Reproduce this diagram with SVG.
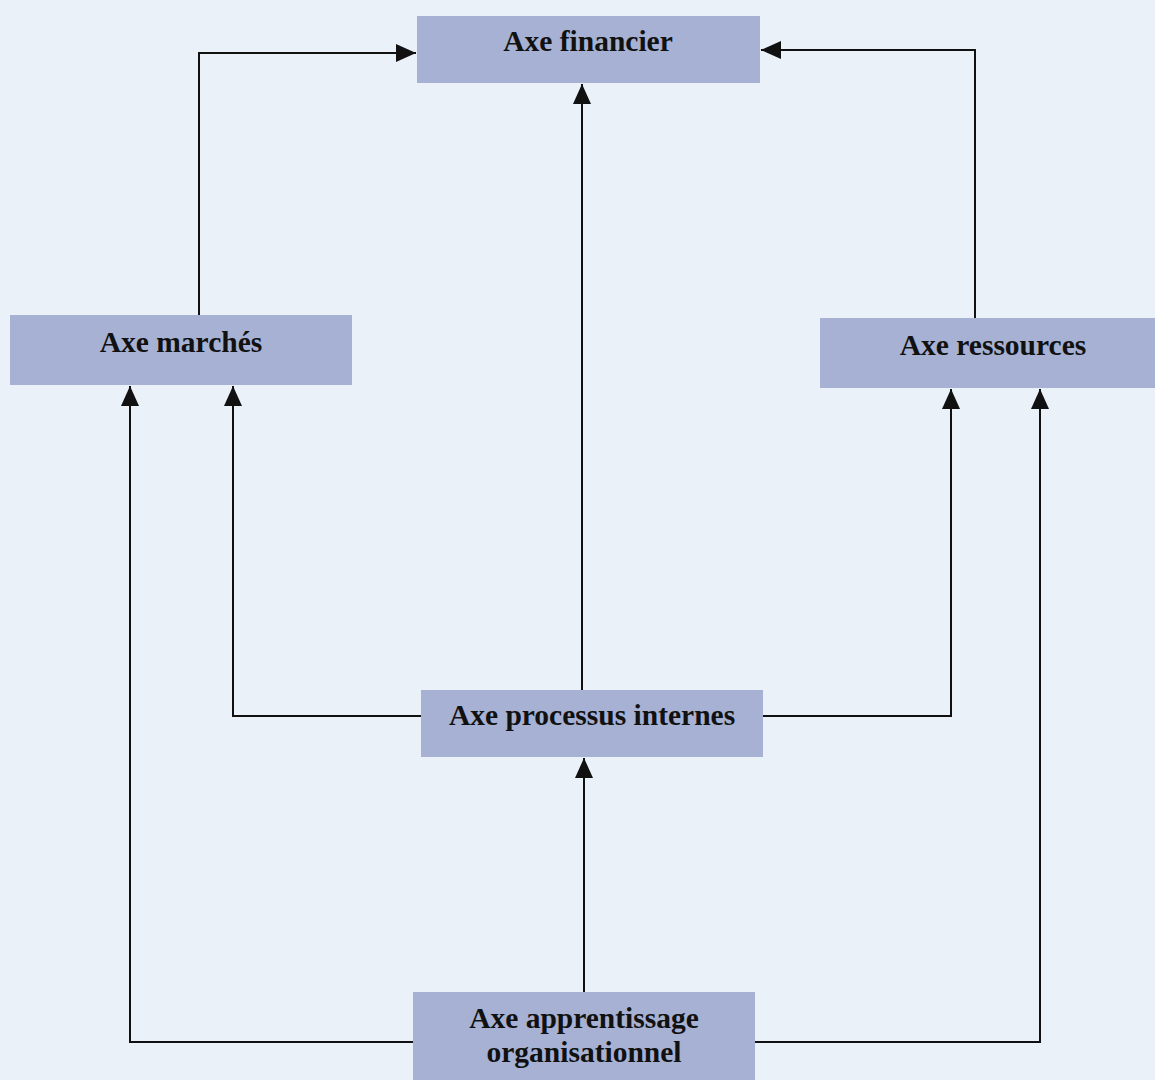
<svg xmlns="http://www.w3.org/2000/svg" width="1155" height="1080" viewBox="0 0 1155 1080">
<style>
.box{fill:#a6b1d3;}
.lbl{font-family:"Liberation Serif",serif;font-weight:bold;font-size:29.5px;fill:#111;text-anchor:middle;}
.ln{fill:none;stroke:#111;stroke-width:2;}
</style>
<defs>
<marker id="ah" viewBox="0 0 20 18" refX="20" refY="9" markerWidth="20" markerHeight="18" markerUnits="userSpaceOnUse" orient="auto">
<path d="M0,0 L20,9 L0,18 Z" fill="#111"/>
</marker>
</defs>
<rect width="1155" height="1080" fill="#ebf1f9"/>
<g id="connectors">
<path class="ln" d="M199,315 V53 H416" marker-end="url(#ah)"/>
<path class="ln" d="M975,318 V50 H761" marker-end="url(#ah)"/>
<path class="ln" d="M582,690 V84" marker-end="url(#ah)"/>
<path class="ln" d="M421,716 H233 V386" marker-end="url(#ah)"/>
<path class="ln" d="M763,716 H951 V389" marker-end="url(#ah)"/>
<path class="ln" d="M584,992 V758" marker-end="url(#ah)"/>
<path class="ln" d="M413,1042 H130 V386" marker-end="url(#ah)"/>
<path class="ln" d="M755,1042 H1040 V389" marker-end="url(#ah)"/>
</g>
<g id="axe-financier">
<rect class="box" x="417" y="16" width="343" height="67"/>
<text class="lbl" x="588" y="51">Axe financier</text>
</g>
<g id="axe-marches">
<rect class="box" x="10" y="315" width="342" height="70"/>
<text class="lbl" x="181" y="352">Axe marchés</text>
</g>
<g id="axe-ressources">
<rect class="box" x="820" y="318" width="335" height="70"/>
<text class="lbl" x="993" y="355">Axe ressources</text>
</g>
<g id="axe-processus">
<rect class="box" x="421" y="690" width="342" height="67"/>
<text class="lbl" x="592" y="725">Axe processus internes</text>
</g>
<g id="axe-apprentissage">
<rect class="box" x="413" y="992" width="342" height="88"/>
<text class="lbl" x="584" y="1028">Axe apprentissage</text>
<text class="lbl" x="584" y="1062">organisationnel</text>
</g>
</svg>
